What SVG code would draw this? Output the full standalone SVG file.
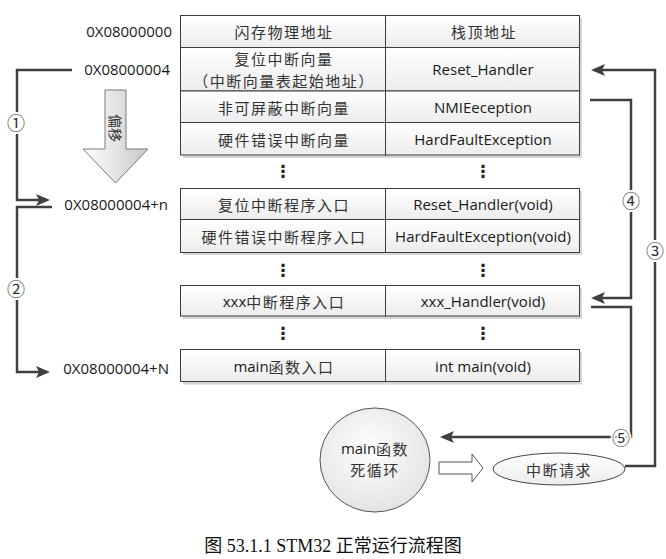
<svg xmlns="http://www.w3.org/2000/svg" width="666" height="559" viewBox="0 0 666 559">
<style>
.cell{fill:url(#cg);stroke:#3c3c3c;stroke-width:1}
.shadow{fill:#d6d6d6}
.lat{font-family:"Open Sans","Noto Sans CJK SC",sans-serif;font-size:15px;fill:#1a1a1a;text-anchor:middle;dominant-baseline:central}
.cjk{font-family:"Noto Sans CJK SC",sans-serif;font-size:15px;fill:#333;letter-spacing:1.5px}
.addr{font-family:"Open Sans",sans-serif;font-size:15px;fill:#1a1a1a;text-anchor:end;dominant-baseline:central}
.dots{font-family:"DejaVu Sans",sans-serif;font-size:17px;font-weight:bold;fill:#222;text-anchor:middle;dominant-baseline:central}
.conn{fill:none;stroke:#404040;stroke-width:2.5}
.num{font-family:"Noto Sans CJK SC","DejaVu Sans",sans-serif;font-size:18px;fill:#333;text-anchor:middle;dominant-baseline:central;stroke:#fff;stroke-width:4;paint-order:stroke}
</style>
<defs>
<linearGradient id="cg" x1="0" y1="0" x2="0" y2="1"><stop offset="0" stop-color="#ffffff"/><stop offset="1" stop-color="#ececec"/></linearGradient>
<linearGradient id="ag" x1="0" y1="0" x2="1" y2="0"><stop offset="0" stop-color="#ffffff"/><stop offset="1" stop-color="#c8c8c8"/></linearGradient>
<radialGradient id="rg" cx="0.45" cy="0.4" r="0.6"><stop offset="0" stop-color="#ffffff"/><stop offset="1" stop-color="#e4e4e4"/></radialGradient>
<marker id="arr" viewBox="0 0 14 12" refX="11" refY="6" markerWidth="14" markerHeight="12" orient="auto" markerUnits="userSpaceOnUse"><path d="M0,0 L14,6 L0,12 L3,6 z" fill="#404040"/></marker>
</defs>
<rect width="666" height="559" fill="#fff"/>

<g id="addresses">
<text class="addr" x="172" y="31">0X08000000</text>
<text class="addr" x="170" y="69">0X08000004</text>
<text class="addr" x="168" y="204">0X08000004+n</text>
<text class="addr" x="169" y="368">0X08000004+N</text>
</g>

<g id="offset-arrow">
<polygon points="105,90 126,90 126,149 148,149 115.5,183 83,149 105,149" fill="url(#ag)" stroke="#7a7a7a" stroke-width="1"/>
<text x="115.5" y="128" transform="rotate(90 115.5 128)" font-family="Noto Sans CJK SC,sans-serif" font-size="14" fill="#333" text-anchor="middle" dominant-baseline="central">偏移</text>
</g>

<g id="vector-table">
<rect class="shadow" x="183" y="18" width="399" height="140"/>
<rect class="cell" x="180.5" y="15.5" width="205" height="32"/>
<rect class="cell" x="385.5" y="15.5" width="194" height="32"/>
<rect class="cell" x="180.5" y="47.5" width="205" height="43.5"/>
<rect class="cell" x="385.5" y="47.5" width="194" height="43.5"/>
<rect class="cell" x="180.5" y="91" width="205" height="31.5"/>
<rect class="cell" x="385.5" y="91" width="194" height="31.5"/>
<rect class="cell" x="180.5" y="122.5" width="205" height="32.5"/>
<rect class="cell" x="385.5" y="122.5" width="194" height="32.5"/>
<text class="lat" x="284" y="31"><tspan class="cjk">闪存物理地址</tspan></text>
<text class="lat" x="484" y="31"><tspan class="cjk">栈顶地址</tspan></text>
<text class="lat" x="284" y="58"><tspan class="cjk">复位中断向量</tspan></text>
<text class="lat" x="284" y="80"><tspan class="cjk">（中断向量表起始地址）</tspan></text>
<text class="lat" x="483" y="69">Reset_Handler</text>
<text class="lat" x="284" y="106.5"><tspan class="cjk">非可屏蔽中断向量</tspan></text>
<text class="lat" x="483" y="106.5">NMIEeception</text>
<text class="lat" x="284" y="138.5"><tspan class="cjk">硬件错误中断向量</tspan></text>
<text class="lat" x="483" y="138.5">HardFaultException</text>
</g>

<g id="dots1">
<text class="dots" x="283" y="171">⋮</text>
<text class="dots" x="483" y="171">⋮</text>
</g>

<g id="handler-table">
<rect class="shadow" x="183" y="191" width="399" height="64"/>
<rect class="cell" x="180.5" y="188.5" width="205" height="31"/>
<rect class="cell" x="385.5" y="188.5" width="194" height="31"/>
<rect class="cell" x="180.5" y="219.5" width="205" height="33"/>
<rect class="cell" x="385.5" y="219.5" width="194" height="33"/>
<text class="lat" x="284" y="204"><tspan class="cjk">复位中断程序入口</tspan></text>
<text class="lat" x="483" y="204">Reset_Handler(void)</text>
<text class="lat" x="284" y="236"><tspan class="cjk">硬件错误中断程序入口</tspan></text>
<text class="lat" x="483" y="236">HardFaultException(void)</text>
</g>

<g id="dots2">
<text class="dots" x="283" y="270">⋮</text>
<text class="dots" x="483" y="270">⋮</text>
</g>

<g id="xxx-row">
<rect class="shadow" x="183" y="288" width="399" height="31"/>
<rect class="cell" x="180.5" y="285.5" width="205" height="30.5"/>
<rect class="cell" x="385.5" y="285.5" width="194" height="30.5"/>
<text class="lat" x="284" y="301">xxx<tspan class="cjk">中断程序入口</tspan></text>
<text class="lat" x="483" y="301">xxx_Handler(void)</text>
</g>

<g id="dots3">
<text class="dots" x="283" y="333">⋮</text>
<text class="dots" x="483" y="333">⋮</text>
</g>

<g id="main-row">
<rect class="shadow" x="183" y="352" width="399" height="32.5"/>
<rect class="cell" x="180.5" y="349.5" width="205" height="32"/>
<rect class="cell" x="385.5" y="349.5" width="194" height="32"/>
<text class="lat" x="284" y="366">main<tspan class="cjk">函数入口</tspan></text>
<text class="lat" x="483" y="366">int main(void)</text>
</g>

<g id="main-loop">
<ellipse cx="375" cy="460" rx="55" ry="52" fill="url(#rg)" stroke="#555" stroke-width="1"/>
<text class="lat" x="375" y="448" font-size="16">main<tspan class="cjk" font-size="16">函数</tspan></text>
<text class="lat" x="375" y="469"><tspan class="cjk" font-size="16">死循环</tspan></text>
</g>

<g id="hollow-arrow">
<polygon points="439,462 472,462 472,454 483,468 472,482 472,474 439,474" fill="#fff" stroke="#555" stroke-width="1"/>
</g>

<g id="irq">
<ellipse cx="559" cy="469" rx="66" ry="16" fill="url(#cg)" stroke="#444" stroke-width="1"/>
<text class="lat" x="559" y="469"><tspan class="cjk" font-size="16">中断请求</tspan></text>
</g>

<g id="connectors">
<path class="conn" d="M72,70 H17 V200 H47" marker-end="url(#arr)"/>
<path class="conn" d="M52,207 H17 V372 H47" marker-end="url(#arr)"/>
<path class="conn" d="M625,466 H655 V70 H594" marker-end="url(#arr)"/>
<path class="conn" d="M590,100 H631 V298 H594" marker-end="url(#arr)"/>
<path class="conn" d="M591,307 H631 V437 H443" marker-end="url(#arr)"/>
<text class="num" x="16" y="122">①</text>
<text class="num" x="16" y="288">②</text>
<text class="num" x="655" y="250">③</text>
<text class="num" x="631" y="200">④</text>
<text class="num" x="621" y="437">⑤</text>
</g>

<text x="333" y="552" font-family="Liberation Serif,Noto Sans CJK SC,serif" font-size="18" fill="#111" text-anchor="middle">图 53.1.1 STM32 正常运行流程图</text>
</svg>
